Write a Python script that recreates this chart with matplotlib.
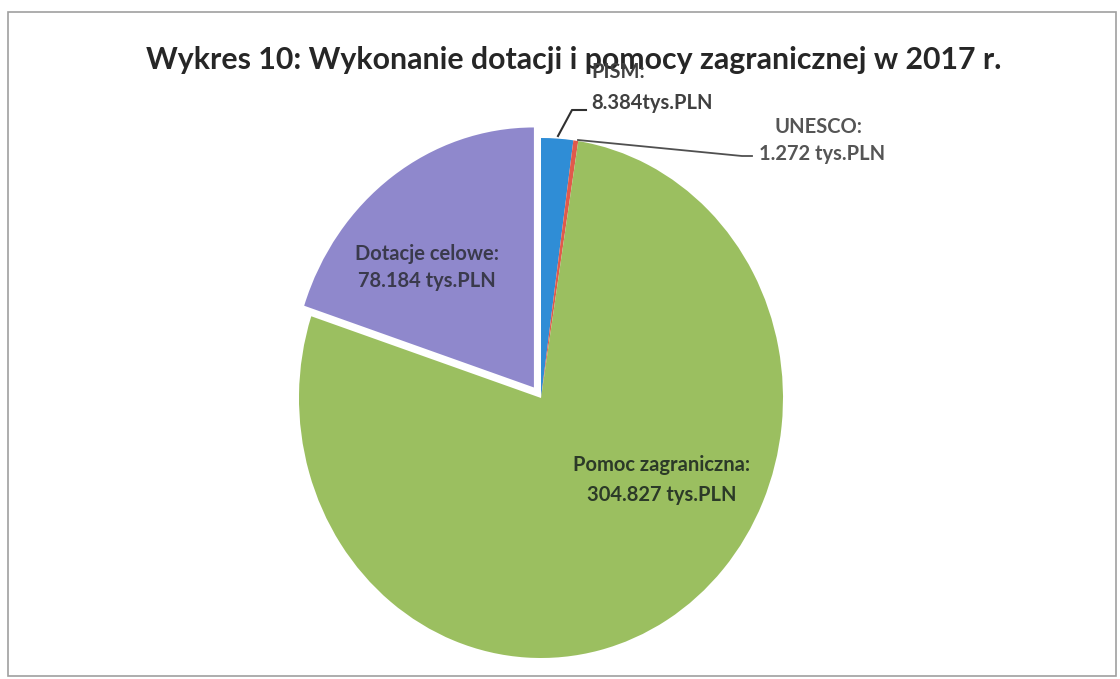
import matplotlib.pyplot as plt
from matplotlib.patches import Rectangle

plt.rcParams['font.family'] = ['Lato', 'DejaVu Sans']

# dane (tys. PLN)
labels = ['PISM', 'UNESCO', 'Pomoc zagraniczna', 'Dotacje celowe']
values = [8.384, 1.272, 304.827, 78.184]
value_txt = ['8.384tys.PLN', '1.272 tys.PLN', '304.827 tys.PLN', '78.184 tys.PLN']
colors = ['#2f8dd6', '#e05a4b', '#9bbf60', '#8f88cc']
explode = [0, 0, 0, 0.05]

title = 'Wykres 10: Wykonanie dotacji i pomocy zagranicznej w 2017 r.'

fig = plt.figure(figsize=(11.2, 6.79), dpi=100)
ax = fig.add_axes([0, 0, 1, 1])

# pixel -> data mapping: x_px = 541 + 242*x, y_px = 398 - 260*y
cx, cy, rx, ry = 541, 398, 242, 260


def px(x, y):
    return (x - cx) / rx, (cy - y) / ry


ax.pie(values, colors=colors, explode=explode, startangle=90,
       counterclock=False, radius=1, center=(0, 0),
       wedgeprops=dict(linewidth=0), frame=False)
ax.set_xlim(-cx / rx, (1120 - cx) / rx)
ax.set_ylim((cy - 679) / ry, cy / ry)
ax.set_aspect('auto')
ax.axis('off')

# frame of the chart area
fig.patches.append(Rectangle((8 / 1120, 3 / 679), 1108 / 1120, 664 / 679,
                             transform=fig.transFigure, fill=False,
                             edgecolor='#a0a0a0', linewidth=1.2))

ax.text(*px(574, 60), title, ha='center', va='center', fontsize=21.8,
        fontweight='bold', color='#262626')

lab_kw = dict(ha='center', va='center', fontsize=14.5, fontweight='bold')

# Dotacje celowe / Pomoc zagraniczna - inside
ax.text(*px(427, 254), labels[3] + ':', color='#3a3a4c', **lab_kw)
ax.text(*px(427, 281), value_txt[3], color='#3a3a4c', **lab_kw)
ax.text(*px(662, 465), labels[2] + ':', color='#2c3a28', **lab_kw)
ax.text(*px(662, 495), value_txt[2], color='#2c3a28', **lab_kw)

# PISM
ax.text(*px(618, 72), labels[0] + ':', color='#404040', **lab_kw)
ax.text(*px(652, 103), value_txt[0], color='#404040', **lab_kw)
xs, ys = zip(px(558, 136), px(572, 110), px(586, 110))
ax.plot(xs, ys, color='#303030', linewidth=1.5)

# UNESCO
ax.text(*px(818, 127), labels[1] + ':', color='#555555', **lab_kw)
ax.text(*px(822, 154), value_txt[1], color='#555555', **lab_kw)
xs, ys = zip(px(578, 140), px(742, 156), px(752, 156))
ax.plot(xs, ys, color='#505050', linewidth=1.3)

fig.savefig('out.png', dpi=100)
